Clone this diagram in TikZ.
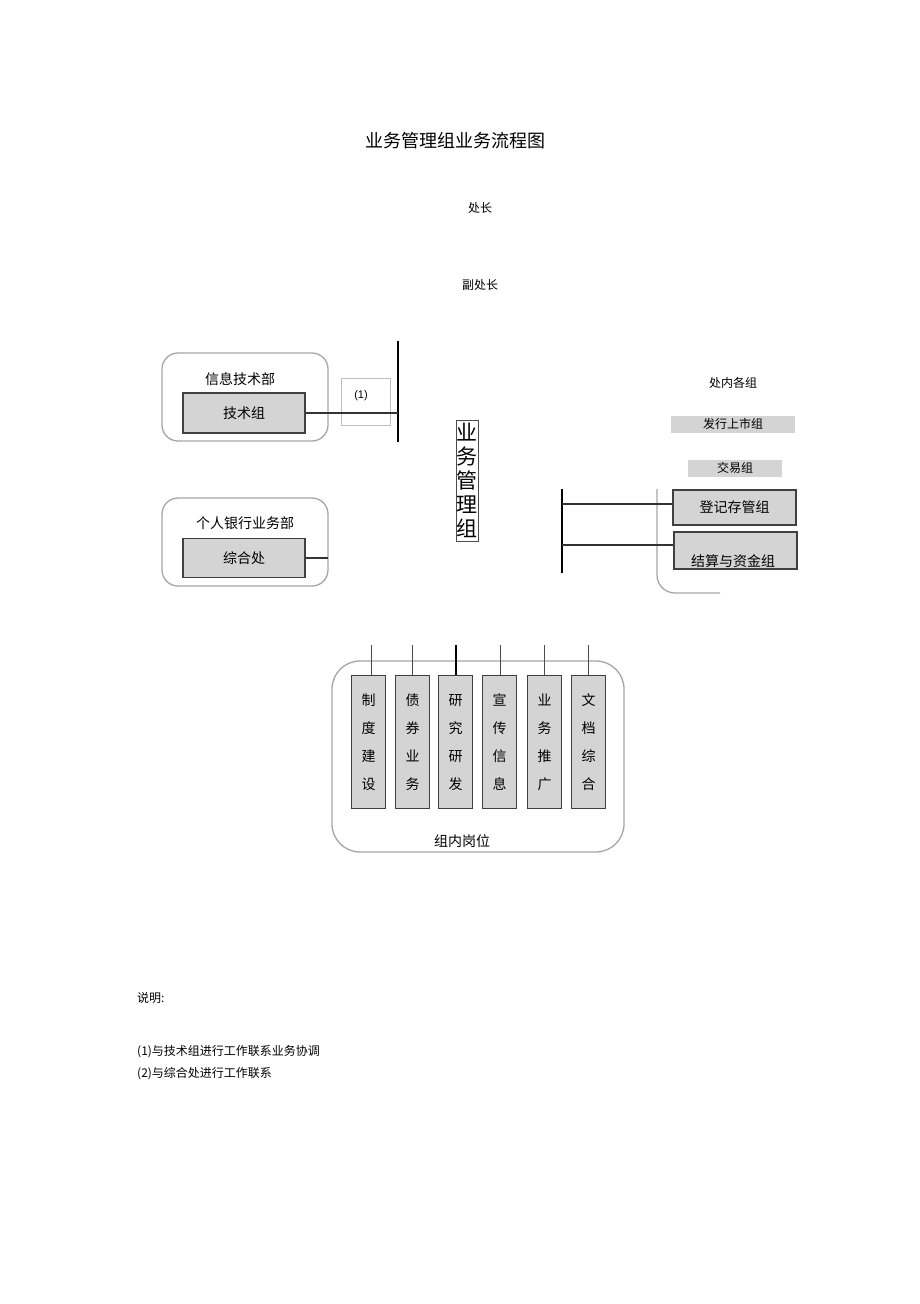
\documentclass[tikz,border=0pt]{standalone}
\usepackage{fontspec}
\newfontfamily\cjk{Noto Sans CJK SC}
\setmainfont{Liberation Sans}
\begin{document}
\begin{tikzpicture}[x=1pt,y=-1pt,
  every node/.style={font=\cjk, inner sep=0pt},
  outerbox/.style={draw=black!35, line width=1.3pt, rounded corners=16pt},
  graybox/.style={draw=black!75, line width=1.2pt, fill=black!17},
  flatbox/.style={fill=black!17},
  link/.style={draw=black!80, line width=1.4pt},
  bar/.style={draw=black, line width=1.2pt},
  col/.style={graybox, minimum width=34pt, minimum height=133pt, anchor=north west, align=center, font=\cjk\fontsize{14}{28}\selectfont}
]
\useasboundingbox (0,0) rectangle (920,1304);
\fill[white] (0,0) rectangle (920,1304);

% title and heads
\node (title) at (455,141) {\fontsize{18}{20}\selectfont 业务管理组业务流程图};
\node (cz) at (480,208) {\fontsize{12}{14}\selectfont 处长};
\node (fcz) at (480,285) {\fontsize{12}{14}\selectfont 副处长};

% 信息技术部
\draw[outerbox] (162,353) rectangle (328,441);
\node (xxjsb) at (240,379) {\fontsize{14}{16}\selectfont 信息技术部};
\node[graybox, minimum width=122pt, minimum height=40pt] (jsz) at (244,413) {\fontsize{14}{16}\selectfont 技术组};
\draw[black!25, line width=0.6pt] (341,378) rectangle (390,425);
\node[font=\fontsize{11}{13}\selectfont] (n1) at (361,396) {(1)};
\coordinate (vtop) at (398,341);
\coordinate (vbot) at (398,442);
\draw[bar] (vtop) -- (vbot);
\draw[link] (jsz.east) -- (jsz.east -| vtop);

% 业务管理组 vertical label
\draw[black!70, line width=0.7pt] (456,420) rectangle (478,541);
\node[align=center, font=\cjk\fontsize{21}{24}\selectfont] (ywglz) at (467,480) {业\\务\\管\\理\\组};

% 个人银行业务部
\draw[outerbox] (162,498) rectangle (328,586);
\node (grbank) at (245,523) {\fontsize{14}{16}\selectfont 个人银行业务部};
\node[graybox, minimum width=122pt, minimum height=39pt] (zhc) at (244,558) {\fontsize{14}{16}\selectfont 综合处};
\coordinate (zhcend) at (328,558);
\draw[link] (zhc.east) -- (zhcend);

% 处内各组
\node (cnz) at (733,383) {\fontsize{12}{14}\selectfont 处内各组};
\node[flatbox, minimum width=124pt, minimum height=17pt] (fxss) at (733,424) {\fontsize{12}{14}\selectfont 发行上市组};
\node[flatbox, minimum width=94pt, minimum height=17pt] (jyz) at (735,468) {\fontsize{12}{14}\selectfont 交易组};
\coordinate (rtop) at (562,489);
\coordinate (rbot) at (562,573);
\draw[bar] (rtop) -- (rbot);
\draw[black!35, line width=1.3pt, rounded corners=18pt] (657,489) -- (657,593) -- (720,593);
\node[graybox, minimum width=123pt, minimum height=35pt] (djcg) at (734.5,507.5) {\fontsize{14}{16}\selectfont 登记存管组};
\node[graybox, minimum width=123pt, minimum height=37pt] (jszj) at (735.5,550.5) {};
\node (jszjt) at (733,561) {\fontsize{14}{16}\selectfont 结算与资金组};
\draw[link] (djcg.west |- 0,504) -- (rtop |- 0,504);
\draw[link] (jszj.west |- 0,545) -- (rtop |- 0,545);

% 组内岗位
\draw[outerbox, rounded corners=28pt] (332,661) rectangle (624,852);
\node (znzw) at (462,841) {\fontsize{14}{16}\selectfont 组内岗位};
\node[col] (c1) at (351,675) {制\\度\\建\\设};
\node[col] (c2) at (395,675) {债\\券\\业\\务};
\node[col] (c3) at (438,675) {研\\究\\研\\发};
\node[col] (c4) at (482,675) {宣\\传\\信\\息};
\node[col] (c5) at (527,675) {业\\务\\推\\广};
\node[col] (c6) at (571,675) {文\\档\\综\\合};
\foreach \n/\x in {c1/371,c2/412,c4/500,c5/544,c6/588}{
  \coordinate (t\n) at (\x,645);
  \draw[black!70, line width=1pt] (t\n) -- (t\n |- \n.north);
}
\coordinate (tc3) at (456,645);
\draw[black, line width=2pt] (tc3) -- (tc3 |- c3.north);

% notes
\node[anchor=west] (sm) at (137,998) {\fontsize{12}{14}\selectfont 说明:};
\node[anchor=west] (note1) at (137,1052) {\fontsize{12}{14}\selectfont (1)与技术组进行工作联系业务协调};
\node[anchor=west] (note2) at (137,1074) {\fontsize{12}{14}\selectfont (2)与综合处进行工作联系};
\end{tikzpicture}
\end{document}
